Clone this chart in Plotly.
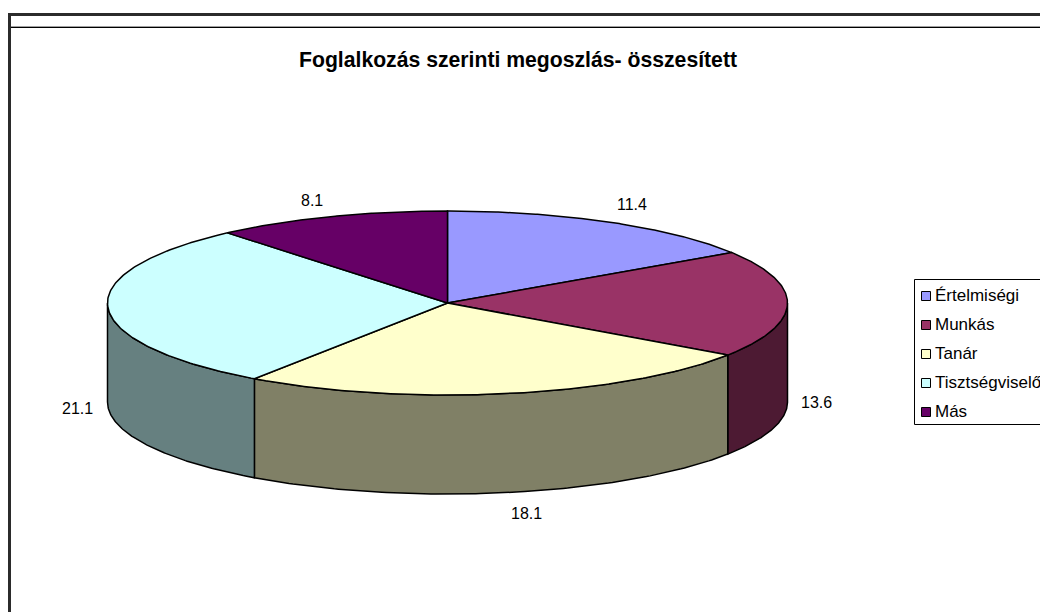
import numpy as np
import plotly.graph_objects as go

categories = ["Értelmiségi", "Munkás", "Tanár", "Tisztségviselő", "Más"]
values = [11.4, 13.6, 18.1, 21.1, 8.1]
top_colors = ["#9999FF", "#993366", "#FFFFCC", "#CCFFFF", "#660066"]
side_colors = ["#4D4D80", "#4D1A33", "#808066", "#668080", "#330033"]
title = "Foglalkozás szerinti megoszlás- összesített"

# layout constants (pixels of the page)
CX, CY, RX, RY, DEPTH = 447.5, 303, 340, 92, 99
FONT = "Liberation Sans, Arial, sans-serif"
label_offsets = [(23, -18), (29.5, -1), (17.5, 21), (-30, 1.5), (-18, -16)]
LW = 1.5


def rim(theta_deg, drop=0.0):
    t = np.radians(theta_deg)
    return CX + RX * np.sin(t), CY - RY * np.cos(t) + drop


total = sum(values)
edges = np.concatenate([[0], np.cumsum(values)]) / total * 360

fig = go.Figure()

# side walls (only the front half, 90..270 degrees, can be seen)
for i in range(len(values)):
    a, b = max(edges[i], 90), min(edges[i + 1], 270)
    if b <= a:
        continue
    th = np.linspace(a, b, 120)
    x1, y1 = rim(th)
    x2, y2 = rim(th[::-1], DEPTH)
    fig.add_trace(go.Scatter(
        x=np.concatenate([x1, x2, x1[:1]]), y=np.concatenate([y1, y2, y1[:1]]),
        mode="lines", fill="toself", fillcolor=side_colors[i],
        line=dict(color="#000000", width=LW), hoverinfo="skip", showlegend=False))

# top faces
for i in range(len(values)):
    th = np.linspace(edges[i], edges[i + 1], 160)
    x1, y1 = rim(th)
    fig.add_trace(go.Scatter(
        x=np.concatenate([[CX], x1, [CX]]), y=np.concatenate([[CY], y1, [CY]]),
        mode="lines", fill="toself", fillcolor=top_colors[i],
        line=dict(color="#000000", width=LW), name=categories[i], showlegend=False))

# value labels
for i, v in enumerate(values):
    mid = (edges[i] + edges[i + 1]) / 2
    visible = 90 <= mid <= 270
    x, y = rim(mid, DEPTH if visible else 0)
    dx, dy = label_offsets[i]
    fig.add_annotation(x=x + dx, y=y + dy, text=f"{v:.1f}", showarrow=False,
                       font=dict(family=FONT, size=16, color="#000000"))

# legend
fig.add_shape(type="rect", x0=914.5, x1=1045, y0=279.5, y1=424.5, layer="below",
              line=dict(color="#000000", width=1), fillcolor="#FFFFFF")
fig.add_trace(go.Scatter(
    x=[926] * len(categories), y=[296 + 29 * i for i in range(len(categories))],
    mode="markers",
    marker=dict(symbol="square", size=9, color=top_colors,
                line=dict(color="#000000", width=1)),
    hoverinfo="skip", showlegend=False))
fig.add_trace(go.Scatter(
    x=[935] * len(categories), y=[297 + 29 * i for i in range(len(categories))],
    mode="text", text=categories, textposition="middle right",
    textfont=dict(family=FONT, size=17, color="#000000"),
    hoverinfo="skip", showlegend=False))

# frame of the source page
fig.add_shape(type="line", x0=8, x1=1040, y0=14.5, y1=14.5, line=dict(color="#2b2b2b", width=3))
fig.add_shape(type="line", x0=9.5, x1=9.5, y0=13, y1=612, line=dict(color="#2b2b2b", width=3))
fig.add_shape(type="line", x0=11, x1=1040, y0=27.5, y1=27.5, line=dict(color="#000000", width=1))
fig.add_shape(type="line", x0=11, x1=1040, y0=26.5, y1=26.5, line=dict(color="#a0a0a0", width=1))

fig.add_annotation(x=518, y=60, text=f"<b>{title}</b>", showarrow=False,
                   font=dict(family=FONT, size=21.2, color="#000000"))

fig.update_layout(
    width=1040, height=612, margin=dict(l=0, r=0, t=0, b=0),
    paper_bgcolor="#FFFFFF", plot_bgcolor="#FFFFFF", showlegend=False,
    xaxis=dict(range=[0, 1040], visible=False, fixedrange=True),
    yaxis=dict(range=[612, 0], visible=False, fixedrange=True),
)

fig.write_html("out.html", config=dict(displayModeBar=False),
               post_script="document.body.style.margin='0';document.body.style.overflow='hidden';")
